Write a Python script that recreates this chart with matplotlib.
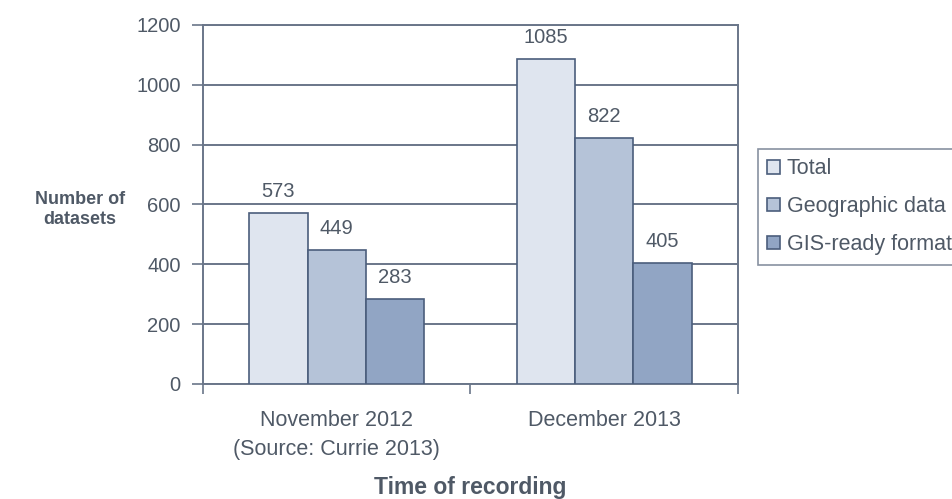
import numpy as np
import matplotlib.pyplot as plt

categories = ['November 2012\n(Source: Currie 2013)', 'December 2013']
series = ['Total', 'Geographic data', 'GIS-ready format']
total = [573, 1085]
geographic = [449, 822]
gis_ready = [283, 405]
yticks = [0, 200, 400, 600, 800, 1000, 1200]

colors = ['#dfe5ef', '#b5c3d8', '#91a5c4']
edge = '#4b5e7c'
grid_c = '#6a7689'
txt = '#4f5966'

plt.rcParams['font.family'] = ['Liberation Sans', 'DejaVu Sans']

fig = plt.figure(figsize=(9.52, 4.99), dpi=100)
ax = fig.add_axes([0.2132, 0.2305, 0.562, 0.7194])

x = np.arange(len(categories))
w = 0.218
vals = [total, geographic, gis_ready]
for i, (name, v) in enumerate(zip(series, vals)):
    pos = x + (i - 1) * w
    bars = ax.bar(pos, v, width=w, color=colors[i], edgecolor=edge, linewidth=1.2,
                  label=name, zorder=3)
    for b, val in zip(bars, v):
        ax.text(b.get_x() + b.get_width() / 2, val + 40, str(val), ha='center',
                va='bottom', fontsize=14.5, color=txt)

ax.set_xlim(-0.5, 1.5)
ax.set_ylim(0, 1200)
ax.set_yticks(yticks)
ax.yaxis.grid(True, color=grid_c, linewidth=1.4, zorder=0)
ax.tick_params(axis='y', labelsize=14.5, labelcolor=txt, color=grid_c, length=8,
               width=1.2, pad=8)

ax.set_xticks([-0.5, 0.5, 1.5])
ax.set_xticklabels([])
ax.set_xticks(x, minor=True)
ax.set_xticklabels(categories, minor=True, fontsize=15.5, color=txt, linespacing=1.45)
ax.tick_params(axis='x', which='major', color=grid_c, length=7, width=1.2)
ax.tick_params(axis='x', which='minor', length=0, pad=19)

for s in ax.spines.values():
    s.set_color(grid_c)
    s.set_linewidth(1.4)

fig.text(0.084, 0.58, 'Number of\ndatasets', ha='center', va='center',
         fontsize=13, fontweight='bold', color=txt)
fig.text(0.494, 0.024, 'Time of recording', ha='center', va='center',
         fontsize=16.5, fontweight='bold', color=txt)

leg = ax.legend(loc='upper left', bbox_to_anchor=(0.796, 0.702),
                bbox_transform=fig.transFigure, fontsize=15.5, frameon=True,
                fancybox=False, handlelength=0.6, handleheight=0.6,
                handletextpad=0.3, borderpad=0.45, labelspacing=0.78,
                borderaxespad=0)
leg.get_frame().set_edgecolor(grid_c)
leg.get_frame().set_linewidth(1.2)
for t in leg.get_texts():
    t.set_color(txt)

fig.savefig('out.png', dpi=100)
